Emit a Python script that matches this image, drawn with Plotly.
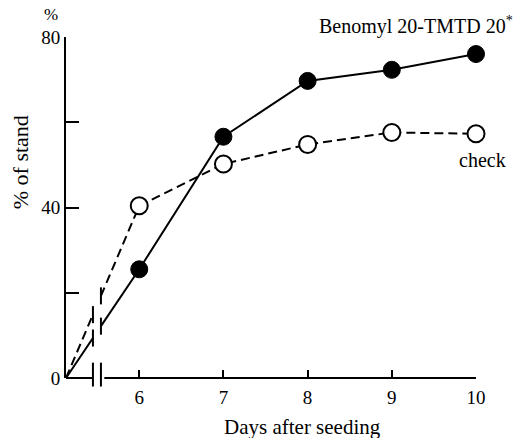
import plotly.graph_objects as go

# ---- data ----
days = [6, 7, 8, 9, 10]
benomyl_tmtd = [25.5, 56.6, 69.7, 72.3, 76.0]
check = [40.4, 50.2, 54.8, 57.6, 57.3]
y_tickvals = [0, 40, 80]
y_ticktext = ["0", "40", "80"]
x_tickvals = [6, 7, 8, 9, 10]

AXIS_START = 5.13      # origin of the broken x axis
BREAK_LO, BREAK_HI = 5.45, 5.545

FONT = "Liberation Serif"
BLACK = "#000000"

fig = go.Figure()


def seg_y(v, x):
    return v * (x - AXIS_START) / (days[0] - AXIS_START)


series = [
    (check, dict(color=BLACK, width=2, dash="9px,5px"),
     dict(symbol="circle", size=17, color="white", line=dict(color=BLACK, width=2))),
    (benomyl_tmtd, dict(color=BLACK, width=2),
     dict(symbol="circle", size=17, color=BLACK, line=dict(color=BLACK, width=1))),
]

shapes = []
for vals, line, marker in series:
    # broken segment from origin to the first point
    fig.add_trace(go.Scatter(x=[AXIS_START, BREAK_LO], y=[0, seg_y(vals[0], BREAK_LO)],
                             mode="lines", line=line, showlegend=False, hoverinfo="skip"))
    fig.add_trace(go.Scatter(x=[BREAK_HI, days[0]], y=[seg_y(vals[0], BREAK_HI), vals[0]],
                             mode="lines", line=line, showlegend=False, hoverinfo="skip"))
    for bx in (BREAK_LO, BREAK_HI):
        yc = seg_y(vals[0], bx)
        shapes.append(dict(type="line", xref="x", yref="y", x0=bx, x1=bx,
                           y0=yc - 2.0, y1=yc + 2.0, line=dict(color=BLACK, width=2)))
    fig.add_trace(go.Scatter(x=days, y=vals, mode="lines+markers", line=line,
                             marker=marker, cliponaxis=False, showlegend=False))

# broken x axis line
shapes.append(dict(type="line", xref="x", yref="paper", x0=AXIS_START, x1=BREAK_LO,
                   y0=0, y1=0, line=dict(color=BLACK, width=2)))
shapes.append(dict(type="line", xref="x", yref="paper", x0=BREAK_HI + 0.04, x1=days[-1],
                   y0=0, y1=0, line=dict(color=BLACK, width=2)))
for bx in (BREAK_LO, BREAK_HI):
    shapes.append(dict(type="line", xref="x", yref="paper", x0=bx, x1=bx,
                       y0=-0.025, y1=0.045, line=dict(color=BLACK, width=2)))

annotations = [
    dict(text="Benomyl 20-TMTD 20<sup>*</sup>", xref="paper", yref="paper",
         x=0.853, y=1.035, xanchor="center", yanchor="middle", showarrow=False,
         font=dict(family=FONT, size=20, color=BLACK)),
    dict(text="check", xref="paper", yref="paper", x=1.015, y=0.639,
         xanchor="center", yanchor="middle", showarrow=False,
         font=dict(family=FONT, size=20, color=BLACK)),
    dict(text="%", xref="paper", yref="paper", x=-0.037, y=1.067,
         xanchor="center", yanchor="middle", showarrow=False,
         font=dict(family=FONT, size=17, color=BLACK)),
    dict(text="% of stand", xref="paper", yref="paper", x=-0.112, y=0.633,
         xanchor="center", yanchor="middle", textangle=-90, showarrow=False,
         font=dict(family=FONT, size=22, color=BLACK)),
    dict(text="Days after seeding", xref="paper", yref="paper", x=0.578, y=-0.145,
         xanchor="center", yanchor="middle", showarrow=False,
         font=dict(family=FONT, size=21, color=BLACK)),
]

fig.update_layout(
    width=523, height=438, autosize=False,
    margin=dict(l=66, r=47, t=37, b=60),
    paper_bgcolor="white", plot_bgcolor="white",
    shapes=shapes, annotations=annotations,
    xaxis=dict(range=[AXIS_START, days[-1]], tickvals=x_tickvals,
               ticks="inside", ticklen=8, tickwidth=2, tickcolor=BLACK,
               showline=False, showgrid=False, zeroline=False,
               ticklabelstandoff=6,
               tickfont=dict(family=FONT, size=19, color=BLACK)),
    yaxis=dict(range=[0, 80], tickvals=y_tickvals, ticktext=y_ticktext,
               ticks="inside", ticklen=13, tickwidth=2, tickcolor=BLACK,
               minor=dict(dtick=20, tick0=0, ticks="inside", ticklen=13,
                          tickwidth=2, tickcolor=BLACK, showgrid=False),
               showline=True, linewidth=2, linecolor=BLACK,
               showgrid=False, zeroline=False,
               tickfont=dict(family=FONT, size=19, color=BLACK)),
)

fig.write_html("out.html", config={"displayModeBar": False},
               post_script="document.body.style.margin='0';")
